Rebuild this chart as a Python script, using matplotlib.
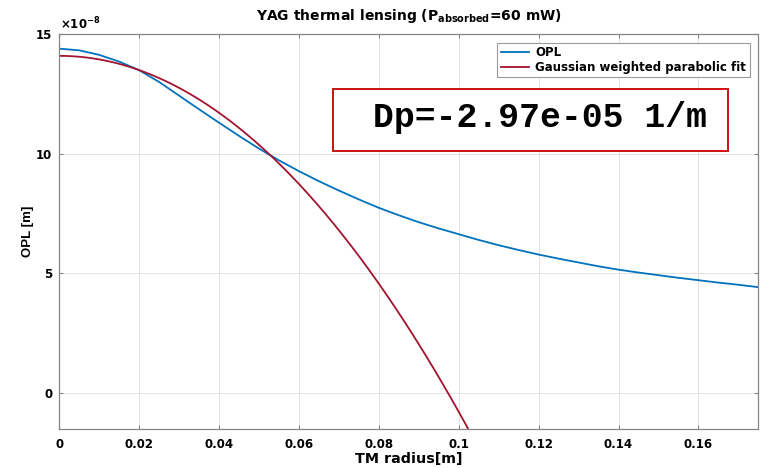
import numpy as np
import matplotlib
matplotlib.use("Agg")
import matplotlib.pyplot as plt
from matplotlib.patches import Rectangle
from matplotlib.ticker import FuncFormatter

plt.rcParams['font.family'] = ['DejaVu Sans']
plt.rcParams['font.weight'] = 'bold'
plt.rcParams['mathtext.fontset'] = 'dejavusans'
plt.rcParams['mathtext.default'] = 'bf'

# Optical path length profile across the test mass (units of 1e-8 m)
radius = [0.000, 0.005, 0.010, 0.015, 0.020, 0.025, 0.030, 0.035, 0.040,
          0.045, 0.050, 0.055, 0.060, 0.065, 0.070, 0.075, 0.080, 0.085,
          0.090, 0.095, 0.100, 0.105, 0.110, 0.115, 0.120, 0.125, 0.130,
          0.135, 0.140, 0.145, 0.150, 0.155, 0.160, 0.165, 0.170, 0.175]
opl_e8 = [14.38, 14.31, 14.12, 13.84, 13.48, 12.99, 12.42, 11.85, 11.29,
          10.74, 10.21, 9.72, 9.27, 8.85, 8.46, 8.09, 7.74, 7.43,
          7.14, 6.88, 6.64, 6.40, 6.18, 5.98, 5.79, 5.62, 5.46,
          5.30, 5.16, 5.04, 4.93, 4.82, 4.72, 4.62, 4.53, 4.43]

# Parabolic fit: OPL(r) = OPL0 + (Dp / 2) * r^2
fit_offset_e8 = 14.08
dp = -2.97e-05

x_ticks = [0, 0.02, 0.04, 0.06, 0.08, 0.1, 0.12, 0.14, 0.16]
x_ticklabels = ['0', '0.02', '0.04', '0.06', '0.08', '0.1', '0.12', '0.14', '0.16']
y_ticks_e8 = [0, 5, 10, 15]

r = np.asarray(radius)
opl = np.asarray(opl_e8) * 1e-8
r_fit = np.linspace(0, 0.175, 400)
opl_fit = fit_offset_e8 * 1e-8 + dp / 2.0 * r_fit ** 2

W, H = 769, 468
fig = plt.figure(figsize=(W / 100, H / 100), dpi=100)
ax = fig.add_axes([59.3 / W, 1 - 429.3 / H, (758.3 - 59.3) / W, (429.3 - 33.8) / H])

blue = '#0072BD'
red = '#A2142F'
ax.plot(r, opl, color=blue, lw=1.3, label='OPL')
ax.plot(r_fit, opl_fit, color=red, lw=1.3, label='Gaussian weighted parabolic fit')

ax.set_xlim(0, 0.175)
ax.set_ylim(-1.5e-8, 15e-8)
ax.set_xticks(x_ticks)
ax.set_xticklabels(x_ticklabels)
ax.set_yticks([v * 1e-8 for v in y_ticks_e8])
ax.yaxis.set_major_formatter(FuncFormatter(lambda v, p: f'{v / 1e-8:g}'))

ax.grid(True, color='#E3E3E3', lw=0.7)
ax.set_axisbelow(True)
for s in ax.spines.values():
    s.set_color('#858585')
    s.set_linewidth(0.9)
ax.tick_params(direction='in', length=3, width=0.8, color='#858585',
               top=True, right=True, labelsize=8.5)
ax.tick_params(axis='x', pad=6)
ax.tick_params(axis='y', pad=5)
for lab in ax.get_xticklabels() + ax.get_yticklabels():
    lab.set_fontweight('bold')

# Exponent shown above the y axis
fig.text(60.5 / W, 1 - 29.5 / H, r'$\times$10$^{-8}$', fontsize=8.5,
         fontweight='bold', ha='left', va='baseline')

ax.set_xlabel('TM radius[m]', fontsize=10.3, fontweight='bold', labelpad=1)
ax.set_ylabel('OPL [m]', fontsize=9.5, fontweight='bold', labelpad=1.5,
              family='Liberation Sans')
ax.set_title('YAG thermal lensing (P$_{absorbed}$=60 mW)', fontsize=10,
             fontweight='bold', pad=10)

leg = ax.legend(loc='upper right', bbox_to_anchor=(749.5 / W, 1 - 42.5 / H),
                bbox_transform=fig.transFigure, fontsize=8.5, frameon=True,
                fancybox=False, framealpha=1, edgecolor='#9A9A9A',
                borderpad=0.3, labelspacing=0.15, handlelength=2.4,
                handletextpad=0.5, borderaxespad=0)
leg.get_frame().set_linewidth(0.8)
for t in leg.get_texts():
    t.set_fontweight('bold')

# Annotation box with the fitted lens power
fig.patches.append(Rectangle((333.3 / W, 1 - 150.7 / H), (727.7 - 333.3) / W,
                             (150.7 - 89.3) / H, transform=fig.transFigure,
                             fill=True, facecolor='white', edgecolor='#CC1111',
                             lw=1.4, zorder=5))
fig.text(373 / W, 1 - 126.7 / H, f'Dp={dp:.2e} 1/m', family='Liberation Mono',
         fontweight='bold', fontsize=25, ha='left', va='baseline', zorder=6)

fig.savefig('out.png', dpi=100)
